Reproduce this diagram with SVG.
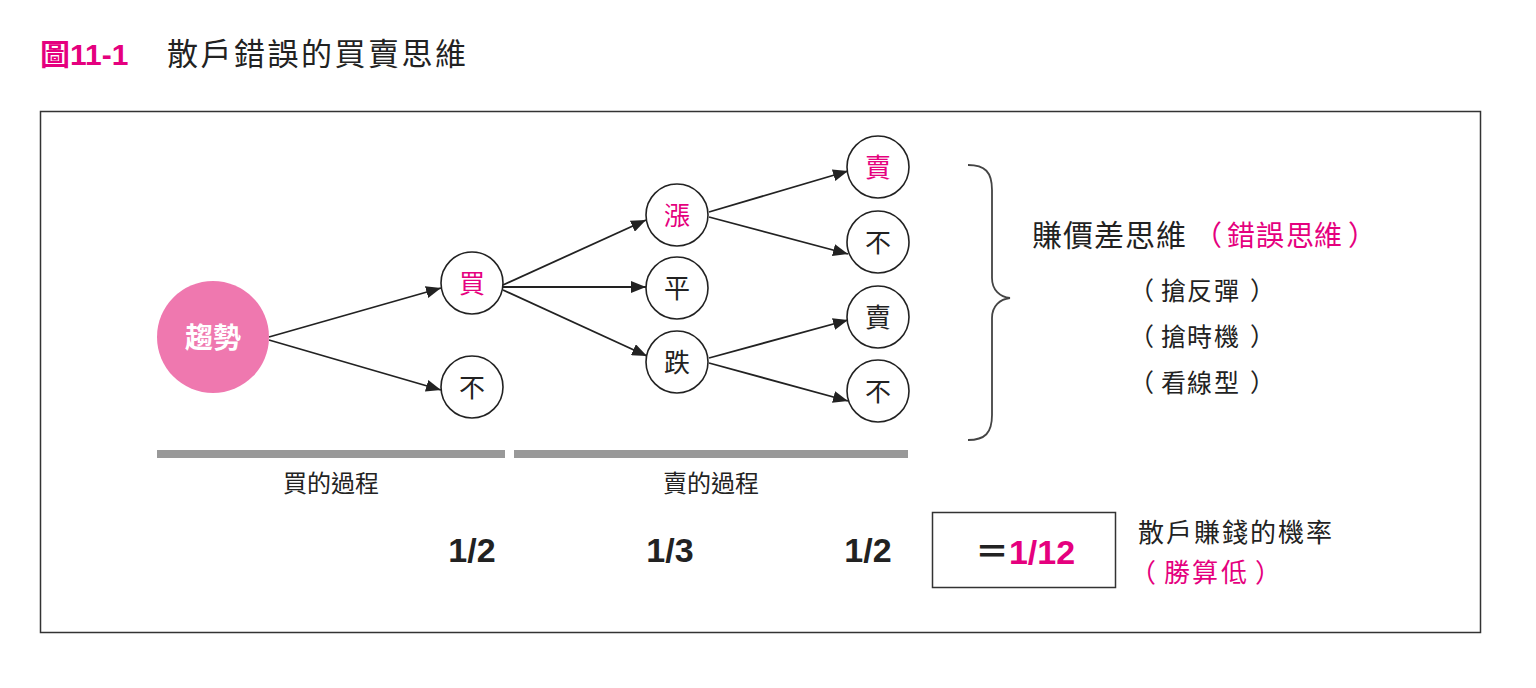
<svg xmlns="http://www.w3.org/2000/svg" width="1536" height="688" viewBox="0 0 1536 688">
<defs>
<marker id="ah" markerUnits="userSpaceOnUse" markerWidth="16" markerHeight="12" refX="15" refY="6" orient="auto">
<path d="M0,0 L15,6 L0,12 z" fill="#222"/>
</marker>
<style>
.cjk{font-family:"Liberation Sans","Noto Sans CJK TC",sans-serif;}
.node circle{fill:#fff;stroke:#222;stroke-width:1.6;}
.node text{font-family:"Noto Sans CJK TC",sans-serif;font-size:26px;fill:#222;text-anchor:middle;}
.node text.pk{fill:#E5007E;}
.pink{fill:#E5007E;}
.dark{fill:#222;}
.conn line{stroke:#222;stroke-width:1.8;marker-end:url(#ah);}
.frac{font-family:"Liberation Sans",sans-serif;font-weight:bold;font-size:34px;fill:#222;text-anchor:middle;}
.bar{fill:#999;}
.sub{font-size:25px;}
</style>
</defs>
<rect width="1536" height="688" fill="#fff"/>

<g id="title">
<text class="cjk pink" x="40" y="65" font-size="30" font-weight="bold">圖11-1</text>
<text class="cjk dark" x="167" y="65" font-size="31" letter-spacing="2.5">散戶錯誤的買賣思維</text>
</g>

<rect id="frame" x="40.5" y="111.5" width="1440" height="521" fill="none" stroke="#333" stroke-width="1.5"/>

<g id="connectors" class="conn">
<line x1="269" y1="337" x2="441" y2="288"/>
<line x1="269" y1="340" x2="441" y2="390"/>
<line x1="503" y1="285" x2="646" y2="220"/>
<line x1="503" y1="287" x2="646" y2="287"/>
<line x1="503" y1="290" x2="647" y2="356"/>
<line x1="709" y1="212" x2="848" y2="171"/>
<line x1="709" y1="217" x2="848" y2="254"/>
<line x1="709" y1="358" x2="848" y2="320"/>
<line x1="709" y1="363" x2="848" y2="401"/>
</g>

<g id="node-trend">
<circle cx="213" cy="337" r="56" fill="#EF78AF"/>
<text x="213" y="348" font-family="Noto Sans CJK TC,sans-serif" font-size="28" font-weight="bold" fill="#fff" text-anchor="middle">趨勢</text>
</g>
<g id="node-buy" class="node"><circle cx="472" cy="283" r="31"/><text class="pk" x="472" y="293">買</text></g>
<g id="node-nobuy" class="node"><circle cx="472" cy="387" r="31"/><text x="472" y="397">不</text></g>
<g id="node-up" class="node"><circle cx="677" cy="215" r="31"/><text class="pk" x="677" y="225">漲</text></g>
<g id="node-flat" class="node"><circle cx="677" cy="288" r="31"/><text x="677" y="298">平</text></g>
<g id="node-down" class="node"><circle cx="677" cy="362" r="31"/><text x="677" y="372">跌</text></g>
<g id="node-sell1" class="node"><circle cx="878" cy="167" r="31"/><text class="pk" x="878" y="177">賣</text></g>
<g id="node-no1" class="node"><circle cx="878" cy="242" r="31"/><text x="878" y="252">不</text></g>
<g id="node-sell2" class="node"><circle cx="878" cy="317" r="31"/><text x="878" y="327">賣</text></g>
<g id="node-no2" class="node"><circle cx="878" cy="391" r="31"/><text x="878" y="401">不</text></g>

<g id="brace">
<path d="M968,165 C985,165 992,172 992,190 L992,278 C992,290 1000,297 1010,298 C1000,299 992,306 992,318 L992,415 C992,433 985,440 968,440" fill="none" stroke="#444" stroke-width="1.8"/>
</g>

<g id="summary">
<text class="cjk dark" x="1032" y="246" font-size="30" letter-spacing="1">賺價差思維</text>
<text class="cjk pink" x="1194 1227 1256 1286 1314 1348" y="246" font-size="28">（錯誤思維）</text>
<text class="cjk dark sub" x="1129 1161 1187 1214 1250" y="300">（搶反彈）</text>
<text class="cjk dark sub" x="1129 1161 1187 1214 1250" y="346">（搶時機）</text>
<text class="cjk dark sub" x="1129 1161 1187 1214 1250" y="392">（看線型）</text>
</g>

<g id="bars">
<rect class="bar" x="157" y="450" width="348" height="8"/>
<rect class="bar" x="514" y="450" width="394" height="8"/>
<text class="cjk dark" x="331" y="492" font-size="24" text-anchor="middle">買的過程</text>
<text class="cjk dark" x="711" y="492" font-size="24" text-anchor="middle">賣的過程</text>
</g>

<g id="fractions">
<text class="frac" x="472" y="562">1/2</text>
<text class="frac" x="670" y="562">1/3</text>
<text class="frac" x="868" y="562">1/2</text>
</g>

<g id="result">
<rect x="932.5" y="512.5" width="183" height="75" fill="none" stroke="#333" stroke-width="1.5"/>
<text x="1025" y="564" font-family="Liberation Sans,Noto Sans CJK TC,sans-serif" font-weight="bold" font-size="34" text-anchor="middle"><tspan class="dark">＝</tspan><tspan class="pink">1/12</tspan></text>
<text class="cjk dark" x="1138" y="542" font-size="26" letter-spacing="2">散戶賺錢的機率</text>
<text class="cjk pink" x="1130 1164 1192 1221 1255" y="582" font-size="26">（勝算低）</text>
</g>
</svg>
